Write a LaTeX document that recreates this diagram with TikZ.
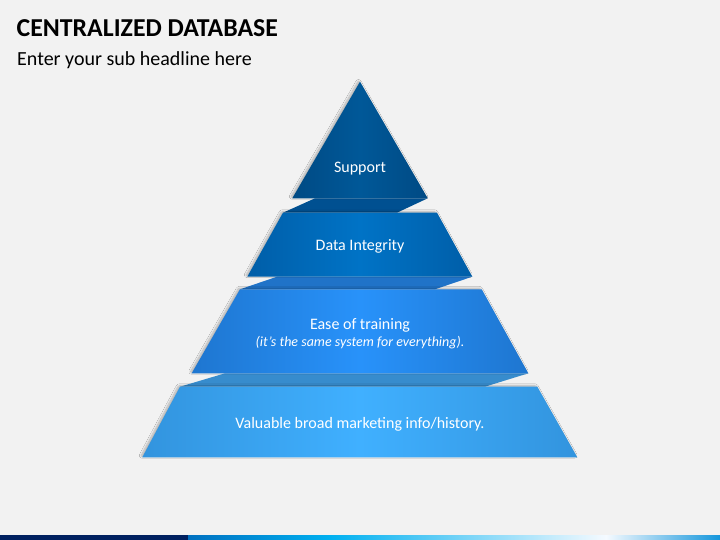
\documentclass[tikz,border=0pt]{standalone}
\usepackage{fontspec}
\setmainfont{Carlito}
\usetikzlibrary{shadows.blur}
\definecolor{bg}{RGB}{242,242,242}
\definecolor{tAc}{RGB}{0,88,152}
\definecolor{tAe}{RGB}{0,74,132}
\definecolor{tBc}{RGB}{0,115,198}
\definecolor{tBe}{RGB}{0,94,168}
\definecolor{tCc}{RGB}{40,146,250}
\definecolor{tCe}{RGB}{30,118,208}
\definecolor{tDc}{RGB}{64,176,255}
\definecolor{tDe}{RGB}{50,148,222}
\definecolor{bA}{RGB}{0,80,145}
\definecolor{bB}{RGB}{32,115,200}
\definecolor{bC}{RGB}{55,140,205}
\definecolor{navy}{RGB}{0,32,96}
\definecolor{barA}{RGB}{0,112,192}
\definecolor{barB}{RGB}{0,176,240}
\definecolor{barC}{RGB}{245,250,255}
\definecolor{barD}{RGB}{20,150,220}
\tikzset{
  tier/.style={blur shadow={shadow xshift=-1.5pt,shadow yshift=1pt,shadow blur steps=8,shadow blur extra rounding=1pt,shadow opacity=28}},
  lbl/.style={text=white,font=\fontsize{16}{19}\selectfont,anchor=base},
  sublbl/.style={text=white,font=\fontsize{14}{17}\selectfont\itshape,anchor=base}
}
\begin{document}
\begin{tikzpicture}[x=1pt,y=-1pt]
\useasboundingbox (0,0) rectangle (720,540);
\fill[bg] (0,0) rectangle (720,540);
% title
\node[anchor=base west,inner sep=0pt] (title) at (16.5,36.7) {\fontsize{25.8}{30}\selectfont\bfseries CENTRALIZED DATABASE};
\node[anchor=base west,inner sep=0pt] (sub) at (17,65.7) {\fontsize{20}{24}\selectfont Enter your sub headline here};
% bands
\fill[bA] (315,198.3) -- (427.7,198.3) -- (397,212.7) -- (283,212.7) -- cycle;
\fill[bB] (277,276.7) -- (472.3,276.7) -- (435,289.3) -- (240,289.3) -- cycle;
\fill[bC] (225,373.3) -- (528.3,373.3) -- (485,386.7) -- (180,386.7) -- cycle;
% tiers
\shade[tier,left color=tAe,right color=tAe,middle color=tAc] (360,81.7) -- (427.7,198.3) -- (292.3,198.3) -- cycle;
\shade[tier,left color=tBe,right color=tBe,middle color=tBc] (283,212.7) -- (437,212.7) -- (472.3,276.7) -- (247.3,276.7) -- cycle;
\shade[tier,left color=tCe,right color=tCe,middle color=tCc] (240,289.3) -- (481.7,289.3) -- (528.3,373.3) -- (191.7,373.3) -- cycle;
\shade[tier,left color=tDe,right color=tDe,middle color=tDc] (180,386.7) -- (537.3,386.7) -- (577.3,457.3) -- (142.3,457.3) -- cycle;
% labels
\node[lbl] (l1) at (360,172.3) {Support};
\node[lbl] (l2) at (360,250) {Data Integrity};
\node[lbl] (l3) at (360,329.3) {Ease of training};
\node[sublbl] (l3b) at (360,346) {(it’s the same system for everything).};
\node[lbl] (l4) at (360,428.3) {Valuable broad marketing info/history.};
% bottom bar
\fill[navy] (0,535) rectangle (188,540);
\shade[left color=barA,right color=barB] (188,535) rectangle (330,540);
\shade[left color=barB,right color=barC] (330,535) rectangle (606,540);
\shade[left color=barC,right color=barD] (606,535) rectangle (720,540);
\end{tikzpicture}
\end{document}
